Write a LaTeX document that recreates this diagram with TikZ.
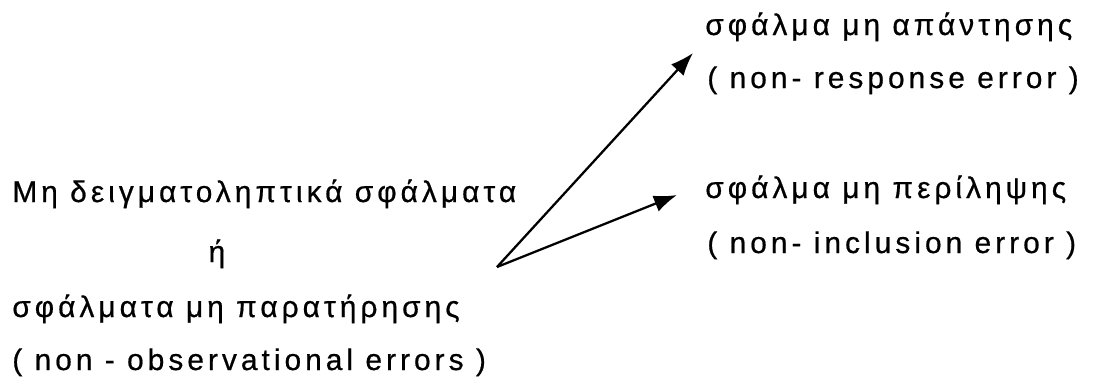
\documentclass[tikz,border=0pt]{standalone}
\usepackage{fontspec}
\setmainfont{Liberation Sans}[LetterSpace=13.5, FakeBold=0.6]
\usepackage{tikz}
\usetikzlibrary{arrows.meta}

\begin{document}
\begin{tikzpicture}[
    x=0.02cm, y=-0.02cm,
    >={Latex[length=0.46cm, width=0.34cm]},
    lbl/.style={inner sep=0pt, anchor=base west, font=\fontsize{17}{20}\selectfont},
    conn/.style={->, line width=1.3pt},
]
\useasboundingbox (0,0) rectangle (1098,379);

% Left block
\node[lbl] (nonsamp) at (12,202) {Μη δειγματοληπτικά σφάλματα};
\node[lbl, anchor=base] (either) at (217,262) {ή};
\node[lbl] (nonobs) at (12,317) {σφάλματα μη παρατήρησης};
\node[lbl] (nonobsen) at (12,370) {( non - observational errors )};

% Right block
\node[lbl] (resp) at (705,35) {σφάλμα μη απάντησης};
\node[lbl] (respen) at (707,88) {( non- response error )};
\node[lbl] (incl) at (705,198) {σφάλμα μη περίληψης};
\node[lbl] (inclen) at (707,253) {( non- inclusion error )};

% Arrows
\coordinate (src) at (497,267);
\coordinate (tipresp) at (693,53);
\coordinate (tipincl) at (677,195);
\draw[conn] (src) -- (tipresp);
\draw[conn] (src) -- (tipincl);

\end{tikzpicture}
\end{document}
